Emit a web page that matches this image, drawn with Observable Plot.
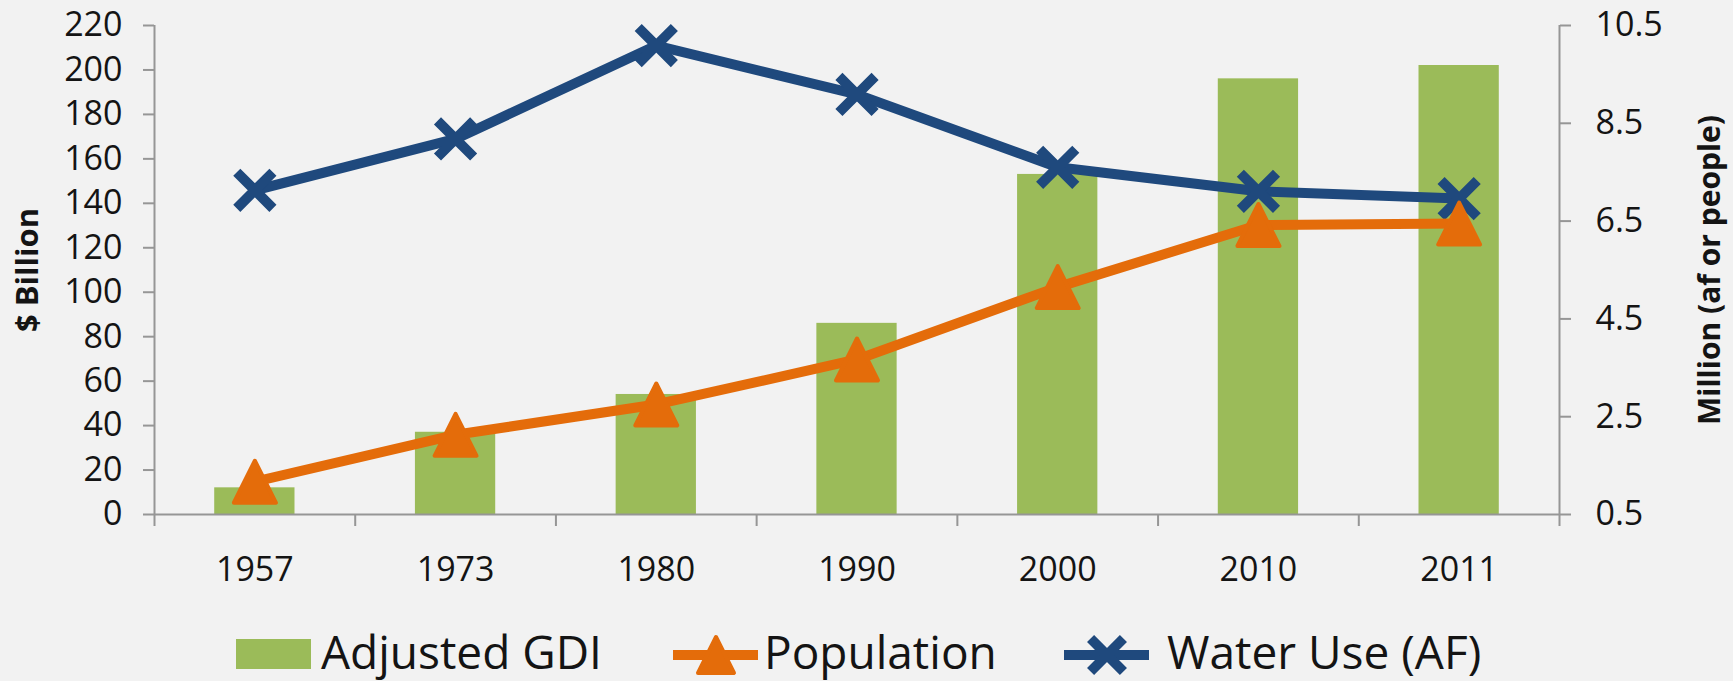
<!DOCTYPE html>
<html>
<head>
<meta charset="utf-8">
<script src="https://cdn.jsdelivr.net/npm/d3@7"></script>
<script src="https://cdn.jsdelivr.net/npm/@observablehq/plot@0.6"></script>
<style>
  html, body { margin: 0; padding: 0; background: #F2F2F2; }
  #chart svg { display: block; }
</style>
</head>
<body>
<div id="chart"></div>
<script>
// ---- data ----
const years = ["1957", "1973", "1980", "1990", "2000", "2010", "2011"];
const adjustedGDI = [12, 37, 54, 86, 153, 196, 202];          // $ Billion (left axis)
const population = [1.17, 2.13, 2.75, 3.67, 5.15, 6.42, 6.45]; // Million people (right axis)
const waterUse = [7.13, 8.18, 10.09, 9.09, 7.6, 7.11, 6.96];   // Million af (right axis)
const leftTicks = [0, 20, 40, 60, 80, 100, 120, 140, 160, 180, 200, 220];
const rightTicks = [0.5, 2.5, 4.5, 6.5, 8.5, 10.5];
const seriesNames = ["Adjusted GDI", "Population", "Water Use (AF)"];

// ---- dual axis mapping: right domain [0.5, 10.5] onto left domain [0, 220] ----
const leftDomain = [0, 220];
const rightDomain = [0.5, 10.5];
const k = (leftDomain[1] - leftDomain[0]) / (rightDomain[1] - rightDomain[0]);
const toLeft = v => leftDomain[0] + (v - rightDomain[0]) * k;
const fromLeft = v => rightDomain[0] + (v - leftDomain[0]) / k;

const table = years.map((year, i) => ({
  i, year, gdi: adjustedGDI[i], pop: population[i], water: waterUse[i]
}));

const green = "#9BBB59", orange = "#E46C0A", blue = "#1F497D";
const axisGray = "#969696", textColor = "#141414";
const font = "'Open Sans', 'DejaVu Sans', sans-serif";

const triangle = {
  draw(context, size) {
    const s = Math.sqrt(size / Math.PI);
    context.moveTo(0, -s);
    context.lineTo(s, s);
    context.lineTo(-s, s);
    context.closePath();
  }
};

const chart = Plot.plot({
  width: 1733,
  height: 610,
  marginLeft: 154,
  marginRight: 174,
  marginTop: 25,
  marginBottom: 96,
  style: { background: "#F2F2F2", fontFamily: font, overflow: "visible" },
  x: { type: "linear", domain: [-0.5, years.length - 0.5], axis: null, label: null },
  y: { domain: leftDomain, axis: null, label: null },
  marks: [
    Plot.rectY(table, { x1: d => d.i - 0.2, x2: d => d.i + 0.2, y: "gdi", fill: green }),
    Plot.ruleX([-0.5, years.length - 0.5], { stroke: axisGray, strokeWidth: 2 }),
    Plot.ruleY([0], { stroke: axisGray, strokeWidth: 2 }),
    Plot.axisY(leftTicks, {
      anchor: "left", tickSize: 11, tickPadding: 21, fontSize: 34,
      stroke: axisGray, strokeWidth: 2, fill: textColor, label: null
    }),
    Plot.axisY(rightTicks.map(toLeft), {
      anchor: "right", tickSize: 11, tickPadding: 25, fontSize: 34,
      tickFormat: v => fromLeft(v).toFixed(1),
      stroke: axisGray, strokeWidth: 2, fill: textColor, label: null
    }),
    Plot.axisX(d3.range(-0.5, years.length, 1), {
      anchor: "bottom", tickSize: 12, tickFormat: () => "",
      stroke: axisGray, strokeWidth: 2, label: null
    }),
    Plot.axisX(d3.range(years.length), {
      anchor: "bottom", tickSize: 0, tickPadding: 42, fontSize: 34,
      tickFormat: i => years[i], fill: textColor, label: null
    }),
    Plot.text(["$ Billion"], {
      text: d => d, frameAnchor: "left", textAnchor: "middle", dx: -126, rotate: -90,
      fontSize: 31, fontWeight: "bold", fill: textColor
    }),
    Plot.text(["Million (af or people)"], {
      text: d => d, frameAnchor: "right", textAnchor: "middle", dx: 151, rotate: -90,
      fontSize: 30, fontWeight: "bold", fill: textColor
    }),
    Plot.line(table, { x: "i", y: d => toLeft(d.water), stroke: blue, strokeWidth: 10 }),
    Plot.dot(table, { x: "i", y: d => toLeft(d.water), symbol: "times", r: 16.5, stroke: blue, strokeWidth: 10 }),
    Plot.line(table, { x: "i", y: d => toLeft(d.pop), stroke: orange, strokeWidth: 10 }),
    Plot.dot(table, {
      x: "i", y: d => toLeft(d.pop), symbol: triangle, r: 21,
      fill: orange, stroke: orange, strokeWidth: 4, strokeLinejoin: "round"
    })
  ]
});
document.getElementById("chart").appendChild(chart);

// ---- legend below the plot ----
const leg = d3.create("svg")
  .attr("width", 1733).attr("height", 71)
  .style("display", "block").style("background", "#F2F2F2")
  .style("font-family", font);

// Adjusted GDI
leg.append("rect").attr("x", 236).attr("y", 29).attr("width", 75).attr("height", 30).attr("fill", green);
leg.append("text").attr("x", 321).attr("y", 59).attr("font-size", 46).attr("fill", textColor).text(seriesNames[0]);

// Population
leg.append("line").attr("x1", 673).attr("x2", 758).attr("y1", 45).attr("y2", 45)
  .attr("stroke", orange).attr("stroke-width", 10);
leg.append("path").attr("transform", "translate(716,45)")
  .attr("d", d3.symbol().type(triangle).size(Math.PI * 18 * 18)())
  .attr("fill", orange).attr("stroke", orange).attr("stroke-width", 4).attr("stroke-linejoin", "round");
leg.append("text").attr("x", 764).attr("y", 59).attr("font-size", 46).attr("fill", textColor).text(seriesNames[1]);

// Water Use
leg.append("line").attr("x1", 1064).attr("x2", 1149).attr("y1", 45).attr("y2", 45)
  .attr("stroke", blue).attr("stroke-width", 10);
leg.append("path").attr("transform", "translate(1107,45)")
  .attr("d", d3.symbol().type(d3.symbolTimes).size(Math.PI * 15 * 15)())
  .attr("fill", "none").attr("stroke", blue).attr("stroke-width", 10);
leg.append("text").attr("x", 1167).attr("y", 59).attr("font-size", 46).attr("fill", textColor).text(seriesNames[2]);

document.getElementById("chart").appendChild(leg.node());
</script>
</body>
</html>
